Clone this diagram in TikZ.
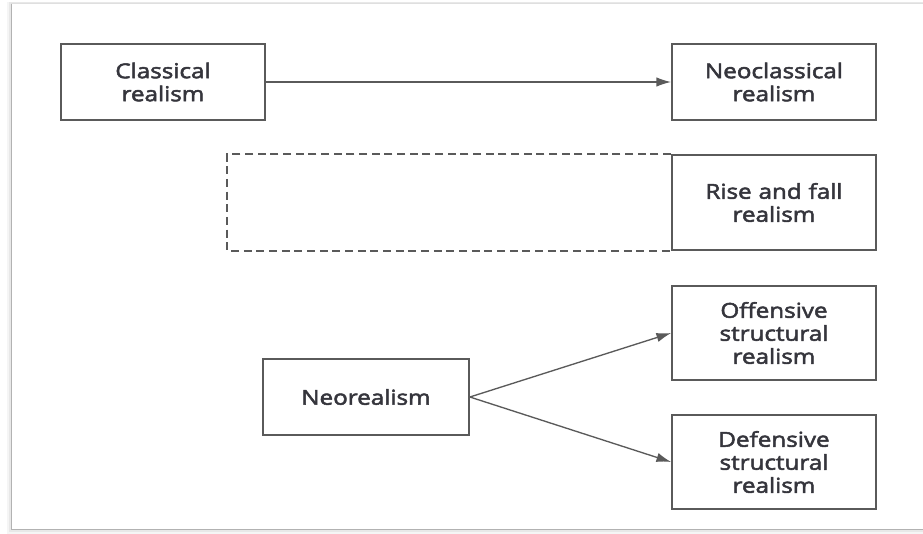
\documentclass[tikz,border=0pt]{standalone}
\usepackage{fontspec}
\setmainfont{Open Sans}[FakeStretch=1.18,FakeBold=2.5]
\usetikzlibrary{arrows.meta}
\definecolor{boxline}{HTML}{5A5A5A}
\definecolor{txt}{HTML}{35353C}
\begin{document}
\begin{tikzpicture}[x=0.75pt,y=-0.75pt,
  box/.style={draw=boxline,line width=1.3pt,fill=white,inner sep=0pt,
    minimum width=153pt,text width=150pt,align=center,
    font=\fontsize{15.4}{17.25}\selectfont,text=txt},
  conn/.style={draw=boxline,line width=1pt,-{Latex[length=11pt,width=7pt]}}]
\useasboundingbox (0,0) rectangle (923,533);
% outer frame with shadow
\fill[gray!8] (7,2) rectangle (923,534);
\fill[gray!18] (9,2) rectangle (923,532);
\fill[white] (12,4) rectangle (923,529);
\draw[gray!25,line width=0.8pt] (11,3.5) -- (923,3.5);
\draw[gray!60,line width=1.2pt] (11.5,3.5) -- (11.5,529.5) -- (923,529.5);
% boxes
\node[box,minimum height=57pt] (cls) at (163,82) {Classical\\realism};
\node[box,minimum height=57pt] (neo) at (774,82) {Neoclassical\\realism};
\node[box,minimum height=71pt] (rise) at (774,202.5) {Rise and fall\\realism};
\node[box,minimum width=154.5pt,text width=150pt,minimum height=57pt] (nr) at (366,397) {Neorealism};
\node[box,minimum height=70.5pt] (off) at (774,333) {Offensive\\structural\\realism};
\node[box,minimum height=70.5pt] (def) at (774,462) {Defensive\\structural\\realism};
% dashed box
\coordinate (xref) at (227,0);
\coordinate (dtl) at (rise.north west -| xref);
\coordinate (dbl) at (rise.south west -| xref);
\draw[boxline,line width=1.3pt,dash pattern=on 6pt off 3.5pt]
  (rise.north west) -- (dtl) -- (dbl) -- (rise.south west);
% connectors
\draw[conn] (cls.east) -- (neo.west);
\draw[conn] (nr.east) -- (off.west);
\draw[conn] (nr.east) -- (def.west);
\end{tikzpicture}
\end{document}
